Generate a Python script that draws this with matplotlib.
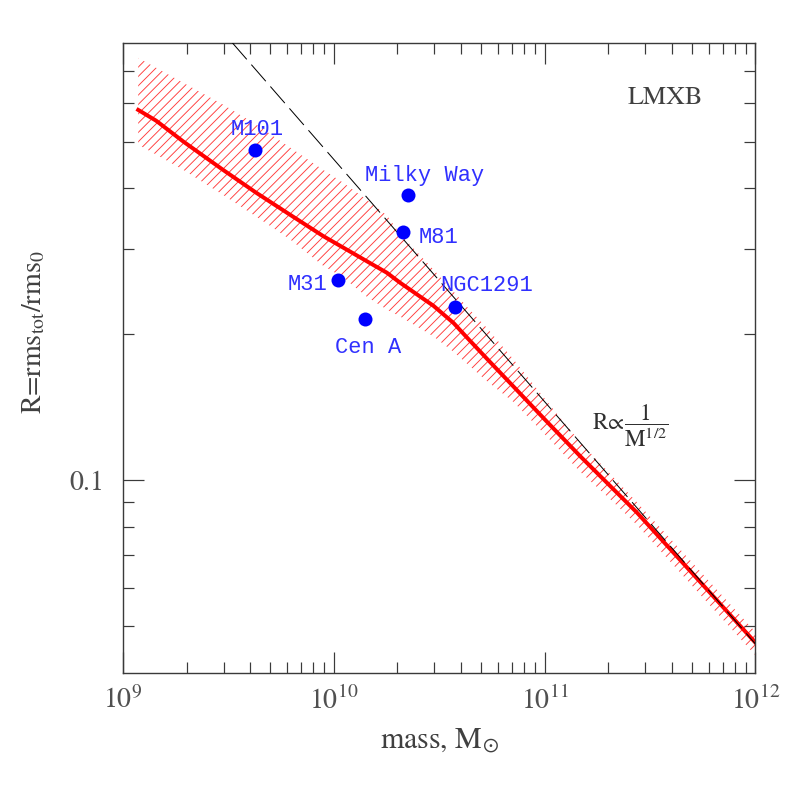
import numpy as np
import matplotlib
matplotlib.use("Agg")
import matplotlib.pyplot as plt

DPI = 84


def px(v):
    """Convert a size in output pixels to points."""
    return v * 72.0 / DPI


# median R(M) curve with its scatter band
mass = [1.18e9, 1.435e9, 1.93e9, 2.98e9, 4.28e9, 6.2e9, 8.9e9, 1.108e10,
        1.435e10, 1.785e10, 2.064e10, 2.97e10, 3.70e10, 4.28e10, 5.33e10,
        7.12e10, 1.026e11, 1.477e11, 2.125e11, 2.744e11, 5.48e11, 1.0e12]
r_median = [0.581, 0.552, 0.500, 0.437, 0.392, 0.353, 0.319, 0.302,
            0.283, 0.268, 0.2555, 0.229, 0.211, 0.197, 0.178,
            0.156, 0.132, 0.112, 0.0957, 0.0857, 0.0616, 0.0462]
r_upper = [0.744, 0.710, 0.661, 0.596, 0.542, 0.486, 0.437, 0.411,
           0.379, 0.352, 0.322, 0.272, 0.245, 0.228, 0.206,
           0.1775, 0.1454, 0.1197, 0.1013, 0.0900, 0.0648, 0.0486]
r_lower = [0.4925, 0.470, 0.437, 0.388, 0.350, 0.314, 0.277, 0.262,
           0.239, 0.225, 0.2176, 0.198, 0.184, 0.174, 0.160,
           0.145, 0.123, 0.104, 0.0900, 0.0808, 0.0580, 0.0435]

# observed galaxies
gal_names = ["M101", "Milky Way", "M81", "M31", "Cen A", "NGC1291"]
gal_mass = [4.22e9, 2.26e10, 2.14e10, 1.052e10, 1.398e10, 3.74e10]
gal_r = [0.481, 0.388, 0.326, 0.2594, 0.2146, 0.2275]

# R ~ M^-1/2 reference line
norm_1e9 = 1.452
slope = -0.5

# label placement: offset in pixels (dx right, dy up) and alignment
label_place = {
    "M101":      (2, 21, "center"),
    "Milky Way": (16, 20, "center"),
    "M81":       (15, -6, "left"),
    "M31":       (-11, -5, "right"),
    "Cen A":     (4, -28, "center"),
    "NGC1291":   (-14, 22, "left"),
}

plt.rcParams["mathtext.fontset"] = "stix"
plt.rcParams["font.family"] = "STIXGeneral"
plt.rcParams["hatch.linewidth"] = px(0.9)
plt.rcParams["hatch.color"] = "#ff3a3a"
plt.rcParams["lines.scale_dashes"] = False

text_col = "#404040"
frame_col = "#3a3a3a"

fig = plt.figure(figsize=(797.4 / DPI, 797.4 / DPI), dpi=DPI)
ax = fig.add_axes([123 / 797, 124 / 797, 632 / 797, 630 / 797])
ax.set_xscale("log")
ax.set_yscale("log")

ax.fill_between(mass, r_lower, r_upper, facecolor="none", edgecolor="#ff3a3a",
                hatch="///", linewidth=0, zorder=1)
ax.plot(mass, r_median, color="red", lw=px(4), zorder=2)

m_model = np.logspace(9, 12, 60)
ax.plot(m_model, norm_1e9 * (m_model / 1e9) ** slope, color="black",
        lw=px(1.0), dashes=(px(22), px(7)), zorder=3)

ax.plot(gal_mass, gal_r, "o", color="blue", ms=px(14), mew=0, zorder=4)
for name, m, r in zip(gal_names, gal_mass, gal_r):
    dx, dy, ha = label_place[name]
    ax.annotate(name, (m, r), xytext=(px(dx), px(dy)), textcoords="offset points",
                ha=ha, va="center", color="#3030ff", family="Liberation Mono",
                fontsize=px(22))

ax.text(0.8576, 0.9127, "LMXB", transform=ax.transAxes, ha="center", va="center",
        fontsize=px(26), color=text_col)
ax.text(0.742, 0.393, r"$\mathrm{R}\!\propto\!\dfrac{1}{\mathrm{M}^{1/2}}$",
        transform=ax.transAxes, ha="left", va="center", fontsize=px(23), color="#303030")

ax.set_xlim(1e9, 1e12)
ax.set_ylim(0.04, 0.8)

ax.set_yticks([0.1])
ax.set_yticklabels(["0.1"])
ax.set_yticks([0.05, 0.06, 0.07, 0.08, 0.09, 0.2, 0.3, 0.4, 0.5, 0.6, 0.7], minor=True)
ax.yaxis.set_minor_formatter(matplotlib.ticker.NullFormatter())

for side in ax.spines.values():
    side.set_color(frame_col)
    side.set_linewidth(px(1.4))

ax.tick_params(which="both", direction="in", top=True, right=True,
               color=frame_col, width=px(1.2), labelcolor="#505050",
               labelsize=px(28))
ax.tick_params(which="major", length=px(21))
ax.tick_params(which="minor", length=px(11))
ax.tick_params(axis="x", which="major", pad=px(13))
ax.tick_params(axis="y", which="major", pad=px(19))

ax.set_xlabel(r"mass, M$_{\odot}$", fontsize=px(30), color=text_col, labelpad=px(12))
ax.set_ylabel(r"R=rms$_{\rm tot}$/rms$_{0}$", fontsize=px(28), color=text_col)
ax.yaxis.set_label_coords(-0.12, 0.541)

fig.savefig("out.png", dpi=DPI)
